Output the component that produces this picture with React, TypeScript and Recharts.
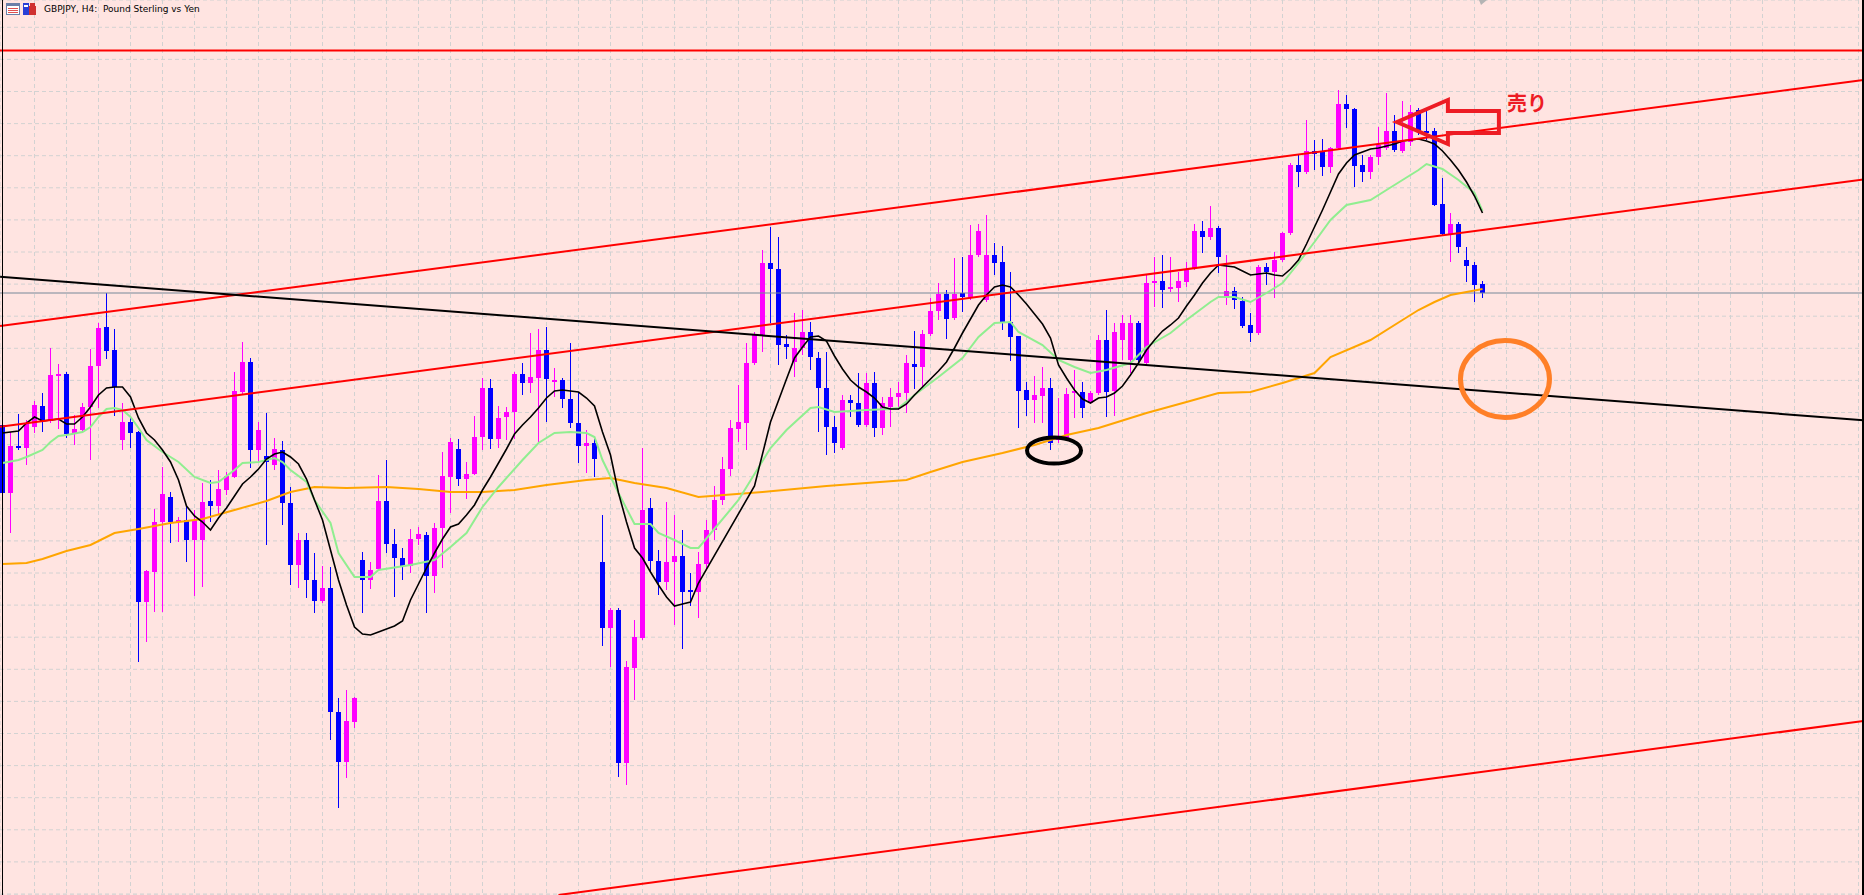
import React from 'react';
import {
  ComposedChart,
  Bar,
  Line,
  XAxis,
  YAxis,
  CartesianGrid,
  ReferenceLine,
  ReferenceDot,
} from 'recharts';

// GBPJPY H4 candles, index 0 = leftmost bar
const opens = [
  185.75, 185.07, 185.54, 185.52, 185.73, 185.94, 185.79, 186.24, 186.26, 185.66,
  185.70, 185.93, 186.34, 186.73, 186.50, 185.60, 185.78, 185.68, 183.98, 184.28,
  184.78, 185.03, 184.78, 184.80, 184.60, 184.60, 184.99, 184.94, 185.10, 185.23,
  186.08, 186.38, 185.50, 185.44, 185.35, 185.50, 184.97, 184.35, 184.60, 184.20,
  183.99, 184.12, 182.88, 182.38, 182.78, 184.40, 184.20, 184.31, 184.99, 184.56,
  184.42, 184.34, 184.61, 184.65, 184.24, 184.72, 185.23, 185.51, 185.21, 185.26,
  185.63, 186.12, 185.61, 185.83, 185.88, 186.26, 186.17, 186.22, 186.50, 186.18,
  186.20, 186.01, 185.77, 185.54, 185.57, 184.38, 183.72, 183.90, 182.37, 183.32,
  183.62, 184.92, 184.39, 184.18, 184.38, 184.44, 184.10, 184.08, 184.36, 184.70,
  185.00, 185.31, 185.71, 185.77, 186.37, 186.65, 187.37, 187.31, 186.56, 186.38,
  186.52, 186.68, 186.42, 186.12, 185.73, 185.52, 186.00, 185.97, 185.75, 186.17,
  185.72, 185.93, 186.03, 186.07, 186.36, 186.33, 186.66, 186.89, 187.06, 186.82,
  187.07, 187.03, 187.45, 187.00, 187.45, 187.38, 186.78, 186.64, 186.10, 186.00,
  186.04, 186.12, 185.60, 185.61, 186.07, 186.08, 185.97, 186.07, 186.60, 186.09,
  186.60, 186.40, 186.77, 186.37, 187.17, 187.19, 187.11, 187.12, 187.18, 187.32,
  187.69, 187.63, 187.72, 187.04, 187.09, 186.99, 186.75, 186.67, 187.33, 187.28,
  187.40, 187.67, 188.35, 188.28, 188.49, 188.49, 188.33, 188.52, 188.96, 188.91,
  188.35, 188.28, 188.43, 188.52, 188.69, 188.49, 188.58, 188.90, 188.69, 188.69,
  187.96, 187.66, 187.76, 187.40, 187.35, 187.16,
];
const highs = [
  185.78, 185.68, 185.86, 185.80, 185.99, 186.07, 186.52, 186.36, 186.28, 185.85,
  185.97, 186.51, 186.77, 187.07, 186.71, 185.97, 185.84, 185.69, 184.30, 184.91,
  185.33, 185.08, 184.83, 184.95, 184.90, 185.17, 185.20, 185.30, 185.28, 186.28,
  186.58, 186.42, 185.78, 185.87, 185.62, 185.59, 185.13, 184.67, 184.67, 184.47,
  184.34, 184.33, 183.02, 183.10, 183.03, 184.48, 184.38, 185.25, 185.40, 184.71,
  184.52, 184.71, 184.73, 184.68, 184.77, 185.48, 185.62, 185.61, 185.38, 185.84,
  186.22, 186.21, 185.94, 185.93, 186.28, 186.37, 186.67, 186.71, 186.73, 186.32,
  186.22, 186.57, 186.08, 185.70, 185.61, 184.85, 183.92, 183.92, 183.39, 183.80,
  185.52, 185.02, 184.50, 184.98, 184.85, 184.70, 184.27, 184.48, 184.80, 185.14,
  185.43, 185.80, 186.15, 186.57, 186.68, 187.50, 187.73, 187.63, 186.65, 186.87,
  186.90, 186.78, 186.48, 186.48, 185.84, 186.05, 186.05, 186.27, 186.27, 186.28,
  186.03, 186.12, 186.18, 186.45, 186.69, 186.70, 187.02, 187.17, 187.10, 187.42,
  187.43, 187.75, 187.76, 187.85, 187.57, 187.54, 187.28, 186.64, 186.18, 186.24,
  186.33, 186.22, 186.02, 186.12, 186.30, 186.18, 186.09, 186.65, 186.90, 186.77,
  186.85, 186.85, 186.79, 187.25, 187.43, 187.45, 187.43, 187.28, 187.38, 187.76,
  187.79, 187.94, 187.74, 187.45, 187.13, 187.03, 186.87, 187.35, 187.37, 187.48,
  187.68, 188.37, 188.45, 188.80, 188.60, 188.61, 188.53, 189.10, 189.05, 188.92,
  188.45, 188.45, 188.73, 189.07, 188.85, 188.99, 188.95, 188.92, 188.90, 188.72,
  188.22, 187.87, 187.78, 187.53, 187.38, 187.19,
];
const lows = [
  185.03, 184.67, 185.50, 185.35, 185.67, 185.68, 185.77, 185.71, 185.62, 185.55,
  185.67, 185.40, 185.92, 186.41, 185.84, 185.50, 185.52, 183.38, 183.58, 183.88,
  183.88, 184.57, 184.58, 184.38, 184.04, 184.13, 184.78, 184.85, 185.05, 185.22,
  186.05, 185.32, 185.37, 184.55, 185.30, 184.75, 184.15, 184.12, 184.02, 183.87,
  183.97, 182.60, 181.92, 182.22, 182.72, 183.87, 184.11, 184.30, 184.47, 184.03,
  184.20, 184.27, 184.55, 183.87, 184.07, 184.32, 184.87, 185.14, 185.01, 185.25,
  185.50, 185.51, 185.52, 185.60, 185.61, 186.05, 186.07, 185.58, 185.78, 186.03,
  185.92, 185.72, 185.37, 185.27, 185.23, 183.54, 183.33, 182.23, 182.15, 183.00,
  183.60, 184.28, 184.05, 184.10, 183.75, 183.51, 183.94, 183.82, 184.30, 184.60,
  184.95, 185.24, 185.58, 185.50, 186.35, 186.48, 186.77, 186.35, 186.41, 186.23,
  186.45, 186.30, 185.68, 185.45, 185.47, 185.50, 185.83, 185.73, 185.73, 185.63,
  185.65, 185.73, 185.90, 185.87, 186.11, 186.12, 186.64, 186.80, 186.61, 186.80,
  186.88, 187.00, 187.43, 186.98, 187.25, 186.70, 186.39, 185.72, 185.84, 185.77,
  185.77, 185.50, 185.57, 185.60, 185.82, 185.82, 185.96, 186.05, 185.83, 185.84,
  186.40, 186.27, 186.35, 186.35, 186.93, 186.92, 187.08, 186.98, 187.13, 187.30,
  187.47, 187.60, 187.27, 186.95, 186.91, 186.72, 186.58, 186.65, 187.15, 187.02,
  187.38, 187.65, 188.13, 188.26, 188.30, 188.24, 188.27, 188.50, 188.72, 188.13,
  188.18, 188.21, 188.35, 188.50, 188.48, 188.47, 188.54, 188.65, 188.60, 187.94,
  187.64, 187.38, 187.47, 187.18, 186.98, 187.02,
];
const closes = [
  185.07, 185.54, 185.52, 185.76, 185.95, 185.79, 186.25, 186.26, 185.66, 185.71,
  185.93, 186.34, 186.72, 186.49, 186.13, 185.78, 185.67, 183.98, 184.29, 184.78,
  185.06, 184.78, 184.80, 184.60, 184.80, 184.98, 184.94, 185.11, 185.24, 186.09,
  186.38, 185.50, 185.70, 185.38, 185.51, 184.97, 184.35, 184.60, 184.20, 183.99,
  184.12, 182.88, 182.38, 182.79, 183.02, 184.20, 184.30, 184.99, 184.56, 184.42,
  184.34, 184.61, 184.66, 184.24, 184.72, 185.24, 185.58, 185.21, 185.26, 185.63,
  186.12, 185.61, 185.82, 185.88, 186.26, 186.17, 186.23, 186.50, 186.21, 186.20,
  186.01, 185.77, 185.54, 185.57, 185.41, 183.72, 183.90, 182.37, 183.33, 183.63,
  184.90, 184.39, 184.18, 184.38, 184.44, 184.08, 184.08, 184.36, 184.70, 185.00,
  185.31, 185.72, 185.78, 186.37, 186.65, 187.37, 187.31, 186.55, 186.53, 186.52,
  186.68, 186.43, 186.12, 185.73, 185.57, 186.00, 185.97, 185.75, 186.17, 185.72,
  185.97, 186.03, 186.07, 186.37, 186.33, 186.66, 186.89, 187.06, 186.81, 187.06,
  187.03, 187.45, 187.69, 187.45, 187.37, 186.78, 186.63, 186.09, 186.00, 186.05,
  186.12, 185.57, 185.64, 186.06, 186.09, 185.92, 186.07, 186.60, 186.08, 186.68,
  186.77, 186.77, 186.40, 187.17, 187.19, 187.10, 187.13, 187.19, 187.30, 187.69,
  187.63, 187.72, 187.43, 187.09, 187.00, 186.74, 186.67, 187.33, 187.28, 187.40,
  187.67, 188.35, 188.28, 188.49, 188.46, 188.33, 188.52, 188.96, 188.91, 188.34,
  188.28, 188.43, 188.55, 188.69, 188.50, 188.58, 188.88, 188.69, 188.67, 187.95,
  187.66, 187.76, 187.53, 187.34, 187.15, 187.07,
];

// moving averages: [bar index, price]
const fastMa = [
  [0, 185.67], [2, 185.69], [3, 185.77], [4, 185.83], [5, 185.79], [6, 185.80], [7, 185.81], [8, 185.76], [9, 185.76], [10, 185.83],
  [11, 185.93], [12, 186.05], [13, 186.12], [14, 186.13], [15, 186.13], [16, 186.03], [17, 185.82], [18, 185.67], [19, 185.60], [20, 185.50],
  [21, 185.38], [22, 185.20], [23, 184.94], [24, 184.84], [25, 184.78], [26, 184.70], [27, 184.82], [28, 184.92], [29, 185.04], [30, 185.16],
  [31, 185.23], [32, 185.31], [33, 185.41], [34, 185.46], [35, 185.48], [36, 185.43], [37, 185.36], [38, 185.21], [39, 185.00], [40, 184.80],
  [41, 184.50], [42, 184.20], [43, 183.95], [44, 183.73], [45, 183.66], [46, 183.65], [47, 183.68], [48, 183.71], [49, 183.74], [50, 183.79],
  [51, 184.00], [52, 184.16], [53, 184.32], [54, 184.47], [55, 184.61], [56, 184.73], [57, 184.76], [58, 184.85], [59, 184.95], [60, 185.10],
  [61, 185.23], [62, 185.37], [63, 185.51], [64, 185.66], [65, 185.75], [66, 185.83], [67, 185.92], [68, 186.02], [69, 186.09], [70, 186.10],
  [71, 186.09], [72, 186.08], [73, 186.02], [74, 185.94], [75, 185.68], [76, 185.45], [77, 185.07], [78, 184.78], [79, 184.52], [80, 184.42],
  [81, 184.28], [82, 184.15], [83, 184.03], [84, 183.94], [85, 183.96], [86, 183.98], [87, 184.17],
  [94, 185.14], [96, 185.78], [98, 186.21], [99, 186.42], [100, 186.53],
  [101, 186.63], [102, 186.64], [103, 186.59], [104, 186.44], [105, 186.31], [106, 186.20], [107, 186.13], [108, 186.08], [109, 186.02], [110, 185.93],
  [111, 185.91], [112, 185.91], [113, 185.96], [114, 186.05], [115, 186.13], [116, 186.21], [117, 186.29], [118, 186.38], [119, 186.52], [120, 186.67],
  [121, 186.81], [122, 186.95], [123, 187.05], [124, 187.13], [125, 187.15], [126, 187.13], [127, 187.05], [128, 186.96], [129, 186.86], [130, 186.76],
  [131, 186.62], [132, 186.35], [133, 186.22], [134, 186.10], [135, 186.01], [136, 185.97], [137, 186.02], [138, 186.03], [139, 186.07], [140, 186.14],
  [141, 186.25], [142, 186.37], [143, 186.50], [144, 186.60], [145, 186.69], [146, 186.75], [147, 186.82], [148, 186.94], [149, 187.05], [150, 187.17],
  [151, 187.27], [152, 187.35], [153, 187.34], [154, 187.33], [155, 187.29], [156, 187.25], [157, 187.26], [158, 187.27], [159, 187.25], [160, 187.24],
  [161, 187.31], [162, 187.40], [163, 187.56], [164, 187.73], [165, 187.90], [166, 188.08], [167, 188.26], [168, 188.37], [169, 188.45], [170, 188.48],
  [171, 188.51], [172, 188.52], [173, 188.54], [174, 188.56], [175, 188.59], [176, 188.60], [177, 188.61], [178, 188.59], [179, 188.56], [180, 188.49],
  [181, 188.40], [182, 188.30], [183, 188.18], [184, 188.04], [185, 187.87],
];
const midMa = [
  [0, 185.37], [2, 185.40], [3, 185.43], [5, 185.50], [6, 185.58], [7, 185.64], [8, 185.65], [10, 185.68], [11, 185.73], [12, 185.83],
  [13, 185.91], [14, 185.92], [15, 185.90], [16, 185.83], [17, 185.72], [18, 185.60], [20, 185.48], [22, 185.38], [24, 185.23], [26, 185.17],
  [27, 185.18], [29, 185.30], [30, 185.37], [32, 185.38], [34, 185.42], [35, 185.38], [36, 185.30], [38, 185.18], [39, 185.00], [41, 184.77],
  [42, 184.47], [44, 184.23], [46, 184.23], [47, 184.30], [51, 184.35], [54, 184.40], [56, 184.53], [58, 184.67], [60, 184.93], [62, 185.13],
  [65, 185.40], [67, 185.57], [69, 185.67], [71, 185.68], [73, 185.67], [74, 185.63], [75, 185.40], [77, 185.07], [79, 184.76], [81, 184.76],
  [82, 184.67], [84, 184.60], [86, 184.52], [87, 184.52], [92, 185.00], [96, 185.52], [98, 185.70], [101, 185.92], [102, 185.93], [104, 185.88],
  [106, 185.89], [108, 185.90], [111, 185.91], [112, 185.92], [114, 186.05], [117, 186.23], [120, 186.42], [122, 186.63], [124, 186.77], [126, 186.78],
  [127, 186.68], [130, 186.55], [132, 186.40], [134, 186.33], [136, 186.27], [138, 186.30], [141, 186.37], [143, 186.53], [146, 186.67], [148, 186.80],
  [151, 186.98], [152, 187.03], [154, 187.03], [156, 186.98], [158, 187.07], [160, 187.17], [162, 187.37], [164, 187.58], [166, 187.80], [168, 187.95],
  [171, 188.00], [173, 188.10], [175, 188.20], [177, 188.30], [178, 188.36], [180, 188.31], [182, 188.20], [184, 188.07], [185, 187.89],
];
const slowMa = [
  [0, 184.36], [3, 184.37], [5, 184.41], [8, 184.49], [11, 184.55], [14, 184.67], [17, 184.71], [21, 184.77], [25, 184.81], [29, 184.90],
  [33, 184.99], [36, 185.08], [39, 185.13], [43, 185.12], [48, 185.13], [52, 185.11], [56, 185.08], [60, 185.08], [64, 185.10], [68, 185.15],
  [73, 185.20], [76, 185.22], [79, 185.17], [83, 185.12], [87, 185.03], [95, 185.08], [103, 185.14], [113, 185.20], [116, 185.28], [120, 185.38],
  [125, 185.47], [129, 185.55], [133, 185.65], [137, 185.72], [139, 185.77], [143, 185.87], [148, 185.98], [152, 186.07], [156, 186.08], [160, 186.17],
  [164, 186.27], [166, 186.43], [171, 186.60], [175, 186.80], [177, 186.90], [179, 186.98], [181, 187.05], [183, 187.08], [185, 187.11],
];

// drawn objects: [bar index, price] end points
const channelUpper = [[-0.3, 186.74], [232.6, 189.2]];
const channelMid = [[-0.3, 185.733], [232.6, 188.206]];
const channelLower = [[69.5, 181.05], [232.6, 182.79]];
const blackTrend = [[-0.3, 187.233], [232.6, 185.798]];
const resistance = 189.495;
const sellMark = [174.3, 188.78];
const lowMark = [131.44, 185.495];
const targetMark = [187.81, 186.21];

const xTicks = Array.from({ length: 59 }, (_, k) => k * 4);
const yTicks = [
  189.727, 189.406, 189.085, 188.764, 188.443, 188.122, 187.801, 187.48, 187.159, 186.838,
  186.517, 186.196, 185.875, 185.554, 185.233, 184.912, 184.591, 184.27, 183.949, 183.628,
  183.307, 182.986, 182.665, 182.344, 182.023, 181.702, 181.381, 181.06,
];

const rows: any[] = opens.map((o, i) => ({
  i,
  o,
  h: highs[i],
  l: lows[i],
  c: closes[i],
  range: [lows[i], highs[i]],
}));
fastMa.forEach(([i, v]) => (rows[i].fast = v));
midMa.forEach(([i, v]) => (rows[i].mid = v));
slowMa.forEach(([i, v]) => (rows[i].slow = v));

const Candle = (props: any) => {
  const { x, y, width, height, payload } = props;
  const { o, h, l, c } = payload;
  const color = c > o ? '#FF00FF' : '#0000FF';
  const top = Math.min(y, y + height);
  const span = Math.abs(height);
  const k = span / (h - l || 1);
  const yo = top + (h - o) * k;
  const yc = top + (h - c) * k;
  const cx = Math.round(x + width / 2 - 0.5);
  const bodyTop = Math.round(Math.min(yo, yc));
  const bodyH = Math.max(Math.round(Math.abs(yo - yc)), 1);
  return (
    <g>
      <rect x={cx} y={Math.round(top)} width={1} height={Math.max(Math.round(span), 1)} fill={color} />
      <rect x={cx - 2} y={bodyTop} width={5} height={bodyH} fill={color} />
    </g>
  );
};

const SellArrow = ({ cx, cy }: any) => {
  const pts = [
    [0, 0], [51, -22], [51, -11], [102, -11], [102, 11], [51, 11], [51, 22],
  ]
    .map(([dx, dy]) => `${cx + dx},${cy + dy}`)
    .join(' ');
  return (
    <g>
      <polygon points={pts} fill="none" stroke="#ED1C24" strokeWidth={4} />
      <text
        x={cx + 110}
        y={cy - 11}
        fill="#ED1C24"
        fontSize={20}
        fontWeight={700}
        fontFamily="'Noto Sans CJK JP', sans-serif"
      >
        売り
      </text>
    </g>
  );
};

const Ring = ({ cx, cy, rx, ry, color, w }: any) => (
  <ellipse cx={cx} cy={cy} rx={rx} ry={ry} fill="none" stroke={color} strokeWidth={w} />
);

const Icons = () => (
  <svg width={32} height={14} style={{ position: 'absolute', left: 5, top: 2 }}>
    <rect x={1.5} y={1.5} width={13} height={11} fill="#fff" stroke="#6b7fa8" />
    <rect x={2} y={2} width={12} height={2} fill="#6b7fa8" />
    <rect x={3} y={6} width={10} height={1} fill="#e05050" />
    <rect x={3} y={8} width={10} height={1} fill="#e05050" />
    <rect x={3} y={10} width={10} height={1} fill="#e05050" />
    <rect x={18} y={1} width={6} height={12} fill="#2a3fd6" />
    <rect x={19} y={3} width={4} height={2} fill="#fff" />
    <rect x={24} y={4} width={7} height={9} fill="#d03030" />
    <rect x={25} y={1} width={5} height={3} fill="#d03030" />
  </svg>
);

export default function App() {
  return (
    <div
      style={{
        position: 'fixed',
        left: 0,
        top: 0,
        width: 1864,
        height: 895,
        background: '#FFE4E1',
        overflow: 'hidden',
      }}
    >
      <ComposedChart
        width={1864}
        height={895}
        data={rows}
        margin={{ top: 0, right: 0, bottom: 0, left: 0 }}
      >
        <XAxis
          hide
          dataKey="i"
          type="number"
          domain={[-0.3125, 232.6875]}
          ticks={xTicks}
          allowDataOverflow
        />
        <YAxis hide type="number" domain={[181.05, 190]} ticks={yTicks} allowDataOverflow />
        <CartesianGrid stroke="#d2d2d2" strokeDasharray="4 3" />
        <ReferenceLine y={closes[closes.length - 1]} stroke="#778899" strokeWidth={1} />
        <Bar dataKey="range" barSize={5} shape={<Candle />} isAnimationActive={false} />
        <Line dataKey="slow" stroke="#FFA500" strokeWidth={2} dot={false} activeDot={false} connectNulls isAnimationActive={false} />
        <Line dataKey="mid" stroke="#90EE90" strokeWidth={2} dot={false} activeDot={false} connectNulls isAnimationActive={false} />
        <Line dataKey="fast" stroke="#000000" strokeWidth={1.6} dot={false} activeDot={false} connectNulls isAnimationActive={false} />
        <ReferenceLine y={resistance} stroke="#FF0000" strokeWidth={2} />
        {[channelUpper, channelMid, channelLower].map((seg, k) => (
          <ReferenceLine
            key={k}
            segment={[{ x: seg[0][0], y: seg[0][1] }, { x: seg[1][0], y: seg[1][1] }]}
            stroke="#FF0000"
            strokeWidth={2}
            ifOverflow="hidden"
          />
        ))}
        <ReferenceLine
          segment={[{ x: blackTrend[0][0], y: blackTrend[0][1] }, { x: blackTrend[1][0], y: blackTrend[1][1] }]}
          stroke="#000000"
          strokeWidth={2}
          ifOverflow="hidden"
        />
        <ReferenceDot
          x={lowMark[0]}
          y={lowMark[1]}
          r={1}
          shape={(p: any) => <Ring cx={p.cx} cy={p.cy} rx={27} ry={13} color="#000000" w={4} />}
        />
        <ReferenceDot
          x={targetMark[0]}
          y={targetMark[1]}
          r={1}
          shape={(p: any) => <Ring cx={p.cx} cy={p.cy} rx={44.5} ry={38.5} color="#FF7F27" w={5} />}
        />
        <ReferenceDot x={sellMark[0]} y={sellMark[1]} r={1} shape={(p: any) => <SellArrow cx={p.cx} cy={p.cy} />} />
      </ComposedChart>
      <div style={{ position: 'absolute', left: 2, top: 0, width: 1, height: 895, background: '#000' }} />
      <div style={{ position: 'absolute', left: 1862, top: 0, width: 2, height: 895, background: '#000' }} />
      <svg width={10} height={6} style={{ position: 'absolute', left: 1479, top: 0 }}>
        <polygon points="0,0 8,0 2,5" fill="#b4b4b4" />
      </svg>
      <Icons />
      <div
        style={{
          position: 'absolute',
          left: 44,
          top: 4,
          fontFamily: "'DejaVu Sans', sans-serif",
          fontSize: 9,
          lineHeight: '11px',
          color: '#000',
          whiteSpace: 'pre',
        }}
      >
        {'GBPJPY, H4:  Pound Sterling vs Yen'}
      </div>
    </div>
  );
}
